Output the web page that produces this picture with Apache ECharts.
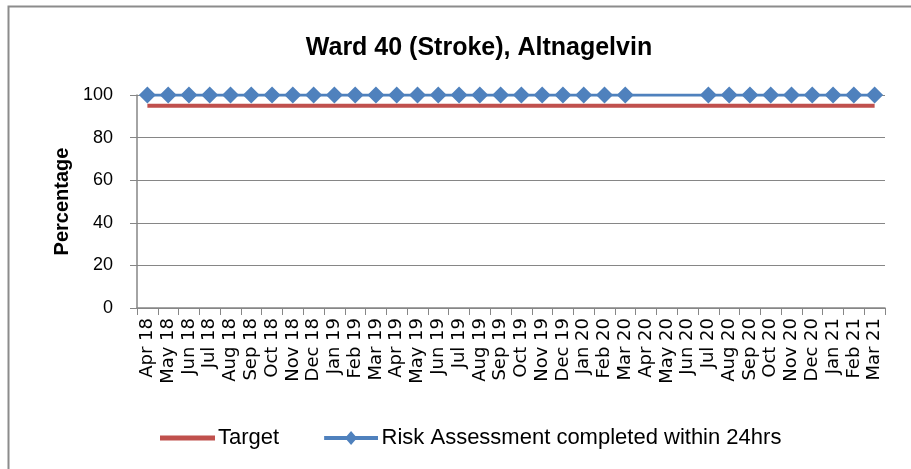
<!DOCTYPE html>
<html><head><meta charset="utf-8">
<script src="https://cdn.jsdelivr.net/npm/echarts@6/dist/echarts.min.js"></script>
<style>html,body{margin:0;padding:0;background:#fff}#c{width:911px;height:469px}</style>
</head><body><div id="c"></div>
<script>
const categories = ["Apr 18","May 18","Jun 18","Jul 18","Aug 18","Sep 18","Oct 18","Nov 18","Dec 18","Jan 19","Feb 19","Mar 19","Apr 19","May 19","Jun 19","Jul 19","Aug 19","Sep 19","Oct 19","Nov 19","Dec 19","Jan 20","Feb 20","Mar 20","Apr 20","May 20","Jun 20","Jul 20","Aug 20","Sep 20","Oct 20","Nov 20","Dec 20","Jan 21","Feb 21","Mar 21"];
const targetValues = [95,95,95,95,95,95,95,95,95,95,95,95,95,95,95,95,95,95,95,95,95,95,95,95,95,95,95,95,95,95,95,95,95,95,95,95];
const riskValues = [100,100,100,100,100,100,100,100,100,100,100,100,100,100,100,100,100,100,100,100,100,100,100,100,null,null,null,100,100,100,100,100,100,100,100,100];
const yTicks = [0,20,40,60,80,100];

const chart = echarts.init(document.getElementById('c'));
chart.setOption({
  animation:false,
  graphic:[{type:'rect',shape:{x:8.5,y:6.5,width:1000,height:1000},style:{fill:'none',stroke:'#8c8c8c',lineWidth:2},z:-1}],
  title:{text:'Ward 40 (Stroke), Altnagelvin',left:474,top:31,textAlign:'center',
    textStyle:{fontFamily:'Liberation Sans',fontWeight:'bold',fontSize:25,color:'#000'}},
  grid:{left:137,right:26,top:95,bottom:161,containLabel:false},
  legend:{top:422,left:155,itemGap:45,itemWidth:55,itemHeight:14,symbolKeepAspect:true,
    textStyle:{fontFamily:'Liberation Sans',fontSize:22,color:'#000',padding:[0,0,0,-2]},
    data:[
      {name:'Target',icon:'path://M0 0H100V9H0Z',itemStyle:{color:'#C0504D'}},
      {name:'Risk Assessment completed within 24hrs',icon:'path://M0 9.5H42L50 0L58 9.5H100V16.5H58L50 26L42 16.5H0Z',itemStyle:{color:'#4F81BD'}}
    ]},
  xAxis:{type:'category',data:categories,boundaryGap:true,
    axisLine:{lineStyle:{color:'#868686',width:1.5}},
    axisTick:{show:true,length:7,lineStyle:{color:'#868686'}},
    axisLabel:{rotate:90,interval:0,fontFamily:'DejaVu Sans',fontSize:18,color:'#000',margin:10}},
  yAxis:{type:'value',min:yTicks[0],max:yTicks[yTicks.length-1],interval:20,
    name:'Percentage',nameLocation:'middle',nameGap:64,nameRotate:90,
    nameTextStyle:{fontFamily:'Liberation Sans',fontWeight:'bold',fontSize:20,color:'#000'},
    axisLine:{show:true,lineStyle:{color:'#868686',width:1.5}},
    axisTick:{show:true,length:7,inside:false,lineStyle:{color:'#868686'}},
    splitLine:{show:true,lineStyle:{color:'#868686',width:1}},
    axisLabel:{fontFamily:'Liberation Sans',fontSize:18,color:'#000',margin:24}},
  series:[
    {name:'Target',type:'line',data:targetValues,symbol:'none',
      lineStyle:{color:'#C0504D',width:4},itemStyle:{color:'#C0504D'},z:2},
    {name:'Risk Assessment completed within 24hrs',type:'line',data:riskValues,connectNulls:true,
      symbol:'diamond',symbolSize:17,showSymbol:true,
      lineStyle:{color:'#4F81BD',width:3},itemStyle:{color:'#4F81BD'},z:3}
  ]
});
</script></body></html>
